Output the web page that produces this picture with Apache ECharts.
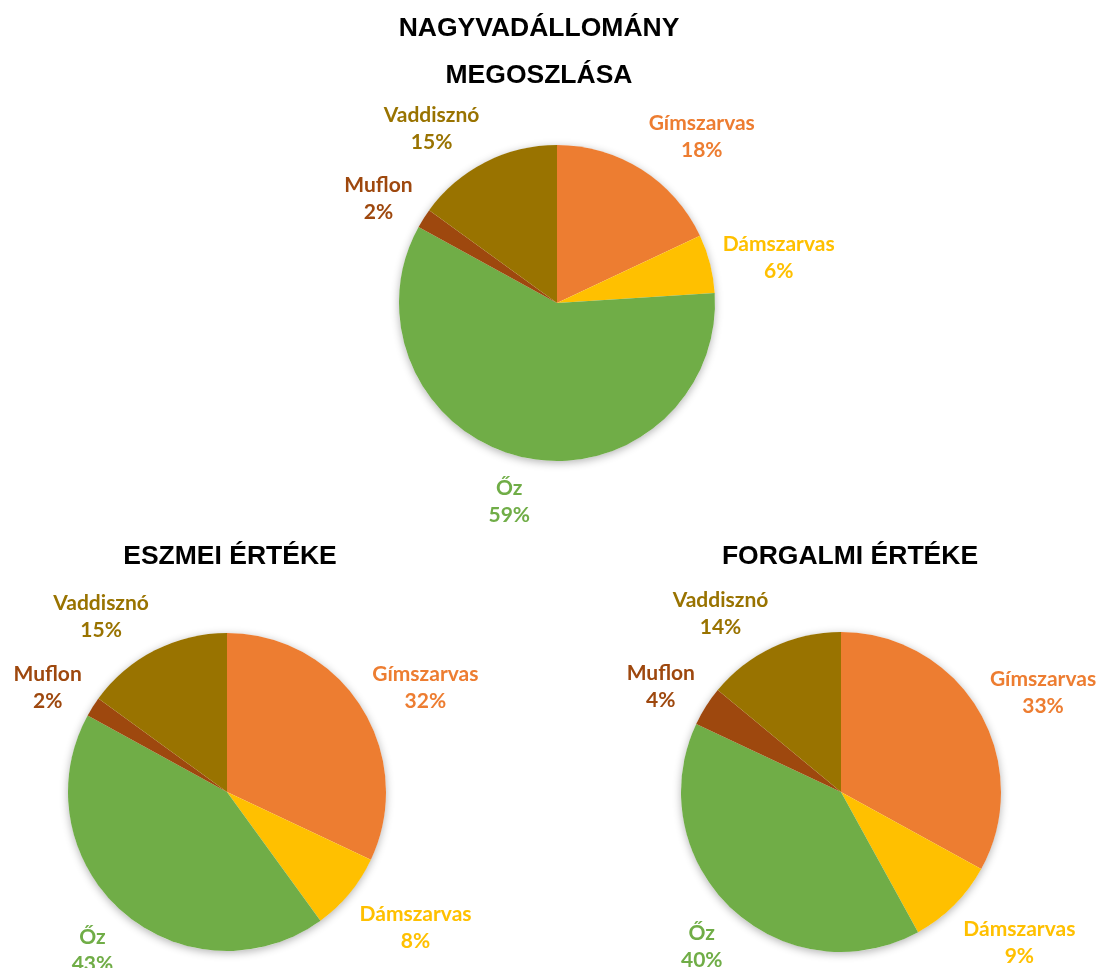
<!DOCTYPE html>
<html>
<head>
<meta charset="utf-8">
<title>Nagyvadállomány megoszlása</title>
<script src="https://cdn.jsdelivr.net/npm/echarts@6/dist/echarts.min.js"></script>
<style>
  html, body { margin: 0; padding: 0; background: #fff; }
  #chart { width: 1104px; height: 968px; }
</style>
</head>
<body>
<div id="chart"></div>
<script>
// data
const categories = ['Gímszarvas', 'Dámszarvas', 'Őz', 'Muflon', 'Vaddisznó'];
const allomanyValues = [18, 6, 59, 2, 15];
const eszmeiValues = [32, 8, 43, 2, 15];
const forgalmiValues = [33, 9, 40, 4, 14];
const titles = ['NAGYVADÁLLOMÁNY\nMEGOSZLÁSA', 'ESZMEI ÉRTÉKE', 'FORGALMI ÉRTÉKE'];

const colors = ['#ED7D31', '#FFC000', '#70AD47', '#9E480E', '#997300'];

// layout of the three pies
const pies = [
  { values: allomanyValues, center: [557, 303], radius: 158 },
  { values: eszmeiValues, center: [227, 792], radius: 159 },
  { values: forgalmiValues, center: [841, 792], radius: 160 },
];

const clamp = (v) => Math.max(-1, Math.min(1, v));

// put each label just outside its slice, roughly like Excel's best fit
function placeLabel(pie) {
  return function (params) {
    const vals = pie.values;
    const total = vals.reduce((a, b) => a + b, 0);
    let before = 0;
    for (let i = 0; i < params.dataIndex; i++) before += vals[i];
    const mid = ((before + vals[params.dataIndex] / 2) / total) * Math.PI * 2;
    const ux = Math.sin(mid);
    const uy = -Math.cos(mid);
    const gap = 13;
    const ax = pie.center[0] + (pie.radius + gap) * ux;
    const ay = pie.center[1] + (pie.radius + gap) * uy;
    const hw = params.labelRect.width / 2;
    const hh = params.labelRect.height / 2;
    return {
      x: ax + hw * clamp(ux * 2.3),
      y: ay + hh * clamp(uy * 1.2) + 5,
      align: 'center',
      verticalAlign: 'middle',
    };
  };
}

const series = [];
pies.forEach((pie) => {
  // white underlay only to give the soft shadow round the pie
  series.push({
    type: 'pie',
    silent: true,
    center: pie.center,
    radius: pie.radius,
    z: 1,
    label: { show: false },
    labelLine: { show: false },
    data: [{
      value: 1,
      itemStyle: {
        color: '#fff',
        shadowBlur: 8,
        shadowOffsetY: 2,
        shadowColor: 'rgba(0,0,0,0.3)',
      },
    }],
  });
  series.push({
    type: 'pie',
    silent: true,
    center: pie.center,
    radius: pie.radius,
    startAngle: 90,
    clockwise: true,
    z: 2,
    itemStyle: { borderWidth: 0 },
    labelLine: { show: false },
    label: {
      show: true,
      position: 'inside',
      fontFamily: 'Lato',
      fontWeight: 'bold',
      fontSize: 21,
      lineHeight: 27,
      formatter: (p) => p.name + '\n' + Math.round(p.percent) + '%',
    },
    labelLayout: placeLabel(pie),
    data: categories.map((name, i) => ({
      name: name,
      value: pie.values[i],
      itemStyle: { color: colors[i] },
      label: { color: colors[i] },
    })),
  });
});

const titleStyle = {
  fontFamily: 'Liberation Sans, Arial',
  fontWeight: 'bold',
  fontSize: 26.5,
  color: '#000',
};

const option = {
  backgroundColor: '#fff',
  animation: false,
  title: [
    { text: titles[0], left: 534, top: 0, textAlign: 'center', textStyle: { ...titleStyle, lineHeight: 47 } },
    { text: titles[1], left: 225, top: 537, textAlign: 'center', textStyle: { ...titleStyle, lineHeight: 30 } },
    { text: titles[2], left: 845, top: 537, textAlign: 'center', textStyle: { ...titleStyle, lineHeight: 30 } },
  ],
  series: series,
};

const chart = echarts.init(document.getElementById('chart'), null, { renderer: 'canvas' });
chart.setOption(option);
</script>
</body>
</html>
